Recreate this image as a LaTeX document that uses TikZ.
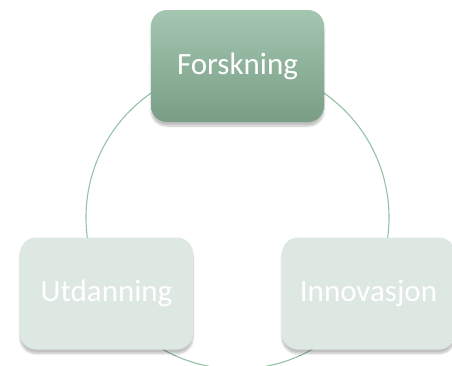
\documentclass[tikz,border=0pt]{standalone}
\usepackage{fontspec}
\setmainfont{Carlito}
\usetikzlibrary{shadows.blur}

\definecolor{ringgreen}{HTML}{95C2A4}
\definecolor{toptop}{HTML}{A4C6B1}
\definecolor{topbot}{HTML}{799D85}
\definecolor{palebox}{HTML}{DEE8E3}

\tikzset{
  box/.style={rounded corners=16pt, minimum width=173pt, minimum height=112pt,
    text=white, font=\fontsize{31}{37}\selectfont,
    blur shadow={shadow xshift=0pt, shadow yshift=-4pt, shadow opacity=25, shadow blur steps=6}},
  ring/.style={draw=ringgreen, line width=1.1pt}
}

\begin{document}
\begin{tikzpicture}[x=1pt,y=-1pt]
		\useasboundingbox (0,0) rectangle (452,365);
		
		% ring
		\coordinate (mid) at (237.5,217.5);
		\draw[ring] (mid) circle (151.5);
		
		% boxes
		\node[box, top color=toptop, bottom color=topbot] (forsk) at (237.5,66) {Forskning};
		\node[box, fill=palebox] (utd) at (106.5,293.5) {Utdanning};
		\node[box, fill=palebox] (innov) at (368.5,293.5) {Innovasjon};
		
	\end{tikzpicture}
\end{document}
